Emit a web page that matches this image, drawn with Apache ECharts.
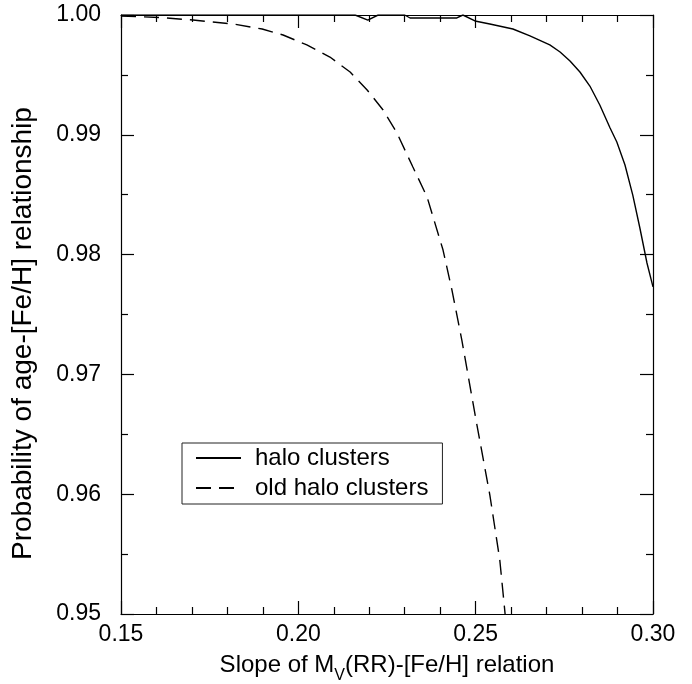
<!DOCTYPE html>
<html>
<head>
<meta charset="utf-8">
<script src="https://cdn.jsdelivr.net/npm/echarts@6/dist/echarts.min.js"></script>
<style>
  html, body { margin: 0; padding: 0; background: #fff; }
  #chart { width: 692px; height: 684px; }
</style>
</head>
<body>
<div id="chart"></div>
<script>
// halo clusters (solid)
const haloX = [0.150, 0.2160, 0.2196, 0.2225, 0.2300, 0.2315, 0.2447, 0.2464, 0.2498, 0.2540,
  0.2605, 0.2653, 0.2709, 0.2738, 0.2766, 0.2794, 0.2822, 0.2850, 0.2879, 0.2898,
  0.2921, 0.2943, 0.2963, 0.2983, 0.3000]
const haloY = [1.0000, 1.0000, 0.99958, 1.0000, 1.0000, 0.99975, 0.99975, 1.0000, 0.99950, 0.99925,
  0.99883, 0.99825, 0.99750, 0.99691, 0.99616, 0.99524, 0.99407, 0.99249, 0.99057, 0.98940,
  0.98748, 0.98497, 0.98222, 0.97930, 0.97730]

// old halo clusters (dashed)
const oldX = [0.1500, 0.1610, 0.1703, 0.1816, 0.1898, 0.1957, 0.2024, 0.2089, 0.2146, 0.2194,
  0.2239, 0.2278, 0.2323, 0.2363, 0.2408, 0.2433, 0.2461, 0.2501, 0.2540, 0.2568,
  0.2583]
const oldY = [0.99992, 0.99979, 0.99958, 0.99925, 0.99883, 0.99833, 0.99750, 0.99649, 0.99524, 0.99374,
  0.99207, 0.99015, 0.98731, 0.98481, 0.98038, 0.97705, 0.97287, 0.96619, 0.95993, 0.95451,
  0.95000]

const seriesNames = ['halo clusters', 'old halo clusters']

const font = "'Liberation Sans', Arial, Helvetica, sans-serif"
const chart = echarts.init(document.getElementById('chart'), null, { renderer: 'canvas' })

const axisLine = { show: true, onZero: false, lineStyle: { color: '#000', width: 1.2 } }

const xBase = {
  type: 'value',
  min: 0.15,
  max: 0.30,
  interval: 0.05,
  axisLine,
  axisTick: { show: true, inside: true, length: 13, lineStyle: { color: '#000', width: 1.2 } },
  minorTick: { show: true, splitNumber: 5, length: 7, lineStyle: { color: '#000', width: 1.2 } },
  splitLine: { show: false },
  minorSplitLine: { show: false }
}

const yBase = {
  type: 'value',
  min: 0.95,
  max: 1.0,
  interval: 0.01,
  axisLine,
  axisTick: { show: true, inside: true, length: 13, lineStyle: { color: '#000', width: 1.2 } },
  minorTick: { show: true, splitNumber: 2, length: 7, lineStyle: { color: '#000', width: 1.2 } },
  splitLine: { show: false },
  minorSplitLine: { show: false }
}

chart.setOption({
  animation: false,
  backgroundColor: '#fff',
  textStyle: { fontFamily: font, color: '#000' },
  grid: { left: 121, right: 39, top: 15, bottom: 70, outerBoundsMode: 'none', containLabel: false },
  legend: {
    data: seriesNames,
    orient: 'vertical',
    left: 182,
    top: 443,
    itemWidth: 45,
    itemHeight: 14,
    itemGap: 6,
    padding: [3, 14, 4, 13],
    borderColor: '#222',
    borderWidth: 1,
    backgroundColor: '#fff',
    itemStyle: { opacity: 0 },
    textStyle: { fontFamily: font, fontSize: 24, color: '#000', lineHeight: 24, padding: [0, 0, 0, 9] }
  },
  xAxis: [
    {
      ...xBase,
      position: 'bottom',
      name: '{a|Slope of M}{sub|V}{a|(RR)-[Fe/H] relation}',
      nameLocation: 'middle',
      nameGap: 39,
      nameTextStyle: {
        rich: {
          a: { fontFamily: font, fontSize: 24, color: '#000', lineHeight: 24, verticalAlign: 'top' },
          sub: { fontFamily: font, fontSize: 16, color: '#000', lineHeight: 16, verticalAlign: 'top', padding: [15, 0, 0, 0] }
        }
      },
      axisLabel: {
        show: true,
        margin: 9,
        fontFamily: font,
        fontSize: 23,
        color: '#000',
        formatter: (v) => v.toFixed(2)
      }
    },
    { ...xBase, position: 'top', axisLabel: { show: false } }
  ],
  yAxis: [
    {
      ...yBase,
      position: 'left',
      name: 'Probability of age-[Fe/H] relationship',
      nameLocation: 'middle',
      nameRotate: 90,
      nameGap: 84,
      nameTextStyle: { fontFamily: font, fontSize: 28, color: '#000', padding: [0, 38, 0, 0] },
      axisLabel: {
        show: true,
        margin: 20,
        fontFamily: font,
        fontSize: 23,
        color: '#000',
        formatter: (v) => v.toFixed(2)
      }
    },
    { ...yBase, position: 'right', axisLabel: { show: false } }
  ],
  series: [
    {
      name: seriesNames[0],
      type: 'line',
      symbol: 'none',
      showSymbol: false,
      clip: true,
      lineStyle: { color: '#000', width: 1.4 },
      itemStyle: { color: '#000' },
      data: haloX.map((x, i) => [x, haloY[i]])
    },
    {
      name: seriesNames[1],
      type: 'line',
      symbol: 'none',
      showSymbol: false,
      clip: true,
      lineStyle: { color: '#000', width: 1.4, type: [15, 8] },
      itemStyle: { color: '#000' },
      data: oldX.map((x, i) => [x, oldY[i]])
    }
  ]
})

window.addEventListener('resize', () => chart.resize())
</script>
</body>
</html>
